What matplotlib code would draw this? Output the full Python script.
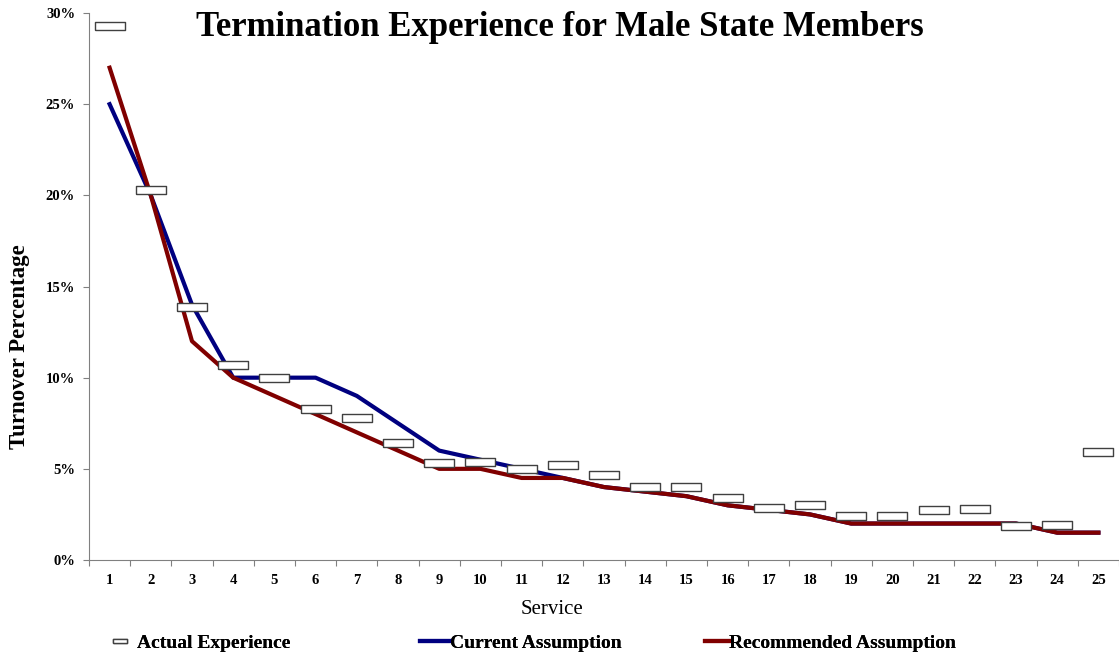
import matplotlib.pyplot as plt
import numpy as np
from matplotlib.ticker import FixedLocator, PercentFormatter

plt.rcParams['font.family'] = ['Liberation Serif', 'DejaVu Serif']

service = list(range(1, 26))
actual = [29.3, 20.3, 13.9, 10.7, 10.0, 8.3, 7.8, 6.4, 5.3, 5.4, 5.0, 5.2, 4.65,
          4.0, 4.0, 3.4, 2.87, 3.0, 2.4, 2.4, 2.75, 2.8, 1.85, 1.9, 5.9]
current = [25, 20, 14, 10, 10, 10, 9, 7.5, 6, 5.5, 5, 4.5, 4, 3.75, 3.5, 3, 2.75,
           2.5, 2, 2, 2, 2, 2, 1.5, 1.5]
recommended = [27, 20, 12, 10, 9, 8, 7, 6, 5, 5, 4.5, 4.5, 4, 3.75, 3.5, 3, 2.75,
               2.5, 2, 2, 2, 2, 2, 1.5, 1.5]

W, H = 1119, 656
fig = plt.figure(figsize=(W / 100, H / 100), dpi=100)
ax = fig.add_axes([89 / W, 96 / H, 1 - 89 / W, (560 - 13) / H])

box = [(-2, -0.5), (2, -0.5), (2, 0.5), (-2, 0.5), (-2, -0.5)]
l_cur, = ax.plot(service, current, color="#000080", linewidth=3, zorder=2)
l_rec, = ax.plot(service, recommended, color="#800000", linewidth=3, zorder=3)
l_act, = ax.plot(service, actual, linestyle="none", marker=box, markersize=22,
                 markerfacecolor="white", markeredgecolor="#404040", markeredgewidth=1.0,
                 zorder=4)

ax.set_xlim(0.5, 25.5)
ax.set_ylim(0, 30)
ax.yaxis.set_major_locator(FixedLocator([0, 5, 10, 15, 20, 25, 30]))
ax.yaxis.set_major_formatter(PercentFormatter(decimals=0))

ax.xaxis.set_major_locator(FixedLocator(np.arange(0.5, 26, 1)))
ax.xaxis.set_major_formatter(plt.NullFormatter())
ax.xaxis.set_minor_locator(FixedLocator(service))
ax.set_xticklabels([str(s) for s in service], minor=True)
ax.tick_params(axis="x", which="minor", length=0, pad=10, labelsize=10.5)
ax.tick_params(axis="x", which="major", length=4, color="#808080")
ax.tick_params(axis="y", length=4, color="#808080", labelsize=10.5, pad=6)
for lab in ax.get_xticklabels(minor=True) + ax.get_yticklabels():
    lab.set_fontweight("bold")

for s in ["top", "right"]:
    ax.spines[s].set_visible(False)
for s in ["left", "bottom"]:
    ax.spines[s].set_color("#808080")

fig.text(20 / W, 1 - 347 / H, "Turnover Percentage", fontsize=16.5, fontweight="bold",
         rotation=90, ha="center", va="center")
fig.text(552 / W, 1 - 609 / H, "Service", fontsize=15, ha="center", va="center")
fig.text(0.5, 0.958, "Termination Experience for Male State Members",
         fontsize=25, fontweight="bold", ha="center", va="center")

legend_y = 1 - 643 / H
entries = [
    (l_act, "Actual Experience", 110, 1.0, 0.4, 0.45),
    (l_cur, "Current Assumption", 420, 1.55, 0.0, 1.0),
    (l_rec, "Recommended Assumption", 705, 1.25, 0.0, 1.0),
]
for handle, text, x0, hlen, pad, mscale in entries:
    leg = fig.legend([handle], [text], loc="center left",
                     bbox_to_anchor=(x0 / W, legend_y), frameon=False,
                     handlelength=hlen, handletextpad=pad, borderpad=0,
                     borderaxespad=0, markerscale=mscale,
                     prop={"size": 14, "weight": "bold"})
    fig.add_artist(leg)

fig.savefig("out.png", dpi=100)
